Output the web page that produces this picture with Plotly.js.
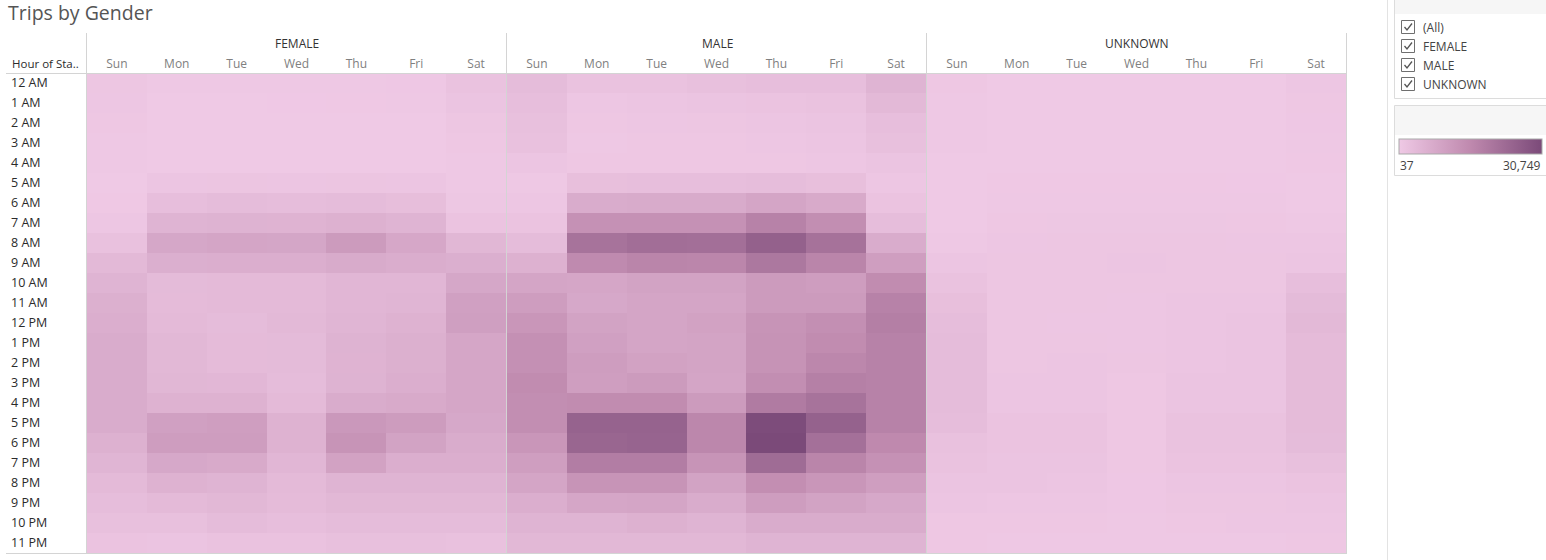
<!DOCTYPE html>
<html><head><meta charset="utf-8">
<script src="https://cdn.plot.ly/plotly-3.0.1.min.js"></script>
<style>html,body{margin:0;padding:0;background:#fff;overflow:hidden}#chart{width:1546px;height:560px}</style>
</head><body><div id="chart"></div><script>
// ---------- data ----------
const days = ['Sun','Mon','Tue','Wed','Thu','Fri','Sat'];
const hours = ['12 AM','1 AM','2 AM','3 AM','4 AM','5 AM','6 AM','7 AM','8 AM','9 AM','10 AM','11 AM',
               '12 PM','1 PM','2 PM','3 PM','4 PM','5 PM','6 PM','7 PM','8 PM','9 PM','10 PM','11 PM'];
const genders = ['FEMALE','MALE','UNKNOWN'];
// rows = hours, columns = Sun..Sat
const female = [
  [738,251,263,289,312,455,1702],
  [702,143,151,170,182,231,1185],
  [498,88,97,103,112,139,781],
  [306,56,61,67,70,84,492],
  [212,98,104,101,110,117,288],
  [137,981,1043,1012,1027,918,241],
  [184,2677,3104,2952,3168,2703,520],
  [712,5087,5369,5311,5842,5024,1462],
  [1934,8251,8702,8519,11143,8187,4376],
  [3880,6302,6544,6551,7289,6813,6287],
  [5094,3402,3621,3655,4577,4614,8243],
  [6052,3385,3607,3640,4596,4851,9930],
  [6538,3628,3160,3893,4843,5571,10178],
  [7034,4128,3395,3402,5317,6066,8474],
  [7019,4113,3380,3425,5304,6043,8461],
  [7047,4378,4352,3144,5331,6527,8488],
  [7028,5563,5590,3632,7012,7496,8470],
  [7003,9912,10398,5575,11870,10890,7989],
  [5810,10646,10655,5581,12815,9199,7025],
  [4843,7988,7507,4603,9440,6527,6541],
  [3627,5571,5086,3635,5095,5068,5077],
  [2896,3628,4115,3386,4118,4107,4121],
  [2174,2186,3147,2652,3154,3139,3160],
  [1448,1207,1698,1690,2177,2184,1941]
];
const male = [
  [3152,1697,1712,2184,2661,2648,5089],
  [2663,731,968,1213,1452,1689,3874],
  [2182,482,724,738,973,1207,2655],
  [1937,247,476,489,735,968,2176],
  [972,481,488,492,497,734,1214],
  [243,2421,2667,2659,2904,2418,733],
  [728,7027,7261,7254,8712,7498,1451],
  [1447,13552,13561,13548,17186,14284,2903],
  [3149,20813,22019,21786,25174,21048,7023],
  [5808,15247,16463,16209,19603,16455,10412],
  [8709,8468,9197,9203,11132,10654,14762],
  [10651,7993,8714,8706,11128,11140,17183],
  [12343,9201,8716,9438,12829,14037,17912],
  [13794,9922,8706,8951,13069,14761,17178],
  [13786,10647,9443,8962,13074,15972,17190],
  [14758,10408,11131,8719,14281,17667,17181],
  [14279,14763,14755,11139,18879,20811,17176],
  [14283,24682,24679,15968,30252,24931,17188],
  [12338,23961,24443,15976,30749,21543,15489],
  [10406,18392,18387,12827,22508,16461,13549],
  [8712,12831,12819,9201,14273,12342,10406],
  [6542,8473,8706,7019,10648,9204,7994],
  [5094,5087,5805,5101,7031,7018,7044],
  [4118,4121,4108,4127,5091,5079,5083]
];
const unknown = [
  [482,118,104,99,107,126,731],
  [356,71,62,65,72,81,487],
  [283,49,45,44,47,55,402],
  [212,39,37,41,43,46,286],
  [141,58,61,60,63,66,187],
  [94,180,195,188,186,172,121],
  [72,301,336,322,331,294,142],
  [141,512,548,541,566,497,263],
  [266,734,771,758,802,722,689],
  [964,748,761,982,776,752,958],
  [1688,761,752,744,781,797,2643],
  [2418,746,738,731,969,988,3398],
  [2905,742,728,735,978,1212,3874],
  [3143,757,743,719,981,1219,3388],
  [3151,766,962,748,989,1224,3391],
  [3138,974,961,482,1208,1216,3382],
  [3129,985,967,487,1215,1231,3376],
  [2894,1448,1457,479,1695,1687,3369],
  [1939,1442,1451,471,1702,1694,3147],
  [1688,1213,1205,466,1452,1459,2182],
  [1209,1201,968,452,973,981,1448],
  [968,728,734,443,741,736,962],
  [482,476,489,238,492,718,724],
  [463,246,252,231,255,263,478]
];
const filterItems = ['(All)','FEMALE','MALE','UNKNOWN'];
const chartTitle = 'Trips by Gender';
const rowHeader = 'Hour of Sta..';

// ---------- layout helpers ----------
const W = 1546, H = 560;
const px = v => v / W;
const py = v => 1 - v / H;
const series = [female, male, unknown];
const all = series.flat(2);
const zmin = Math.min(...all), zmax = Math.max(...all);
const fmt = n => n.toLocaleString('en-US');

const colorscale = [
  [0, 'rgb(239,201,229)'],
  [0.5, 'rgb(191,137,174)'],
  [1, 'rgb(123,74,121)']
];
const FONT = 'Open Sans, Noto Sans, sans-serif';

const panelLeft = [87, 507, 927];
const panelW = 420;
const gridTop = 73, gridBottom = 553;

const traces = series.map((z, i) => ({
  type: 'heatmap',
  x: days, y: hours, z: z,
  xaxis: i === 0 ? 'x' : 'x' + (i + 1), yaxis: 'y',
  zmin: zmin, zmax: zmax,
  colorscale: colorscale,
  xgap: 0, ygap: 0,
  hoverinfo: 'skip',
  showscale: i === 0,
  colorbar: {
    orientation: 'h', x: px(1399), xanchor: 'left', y: py(139), yanchor: 'top',
    len: 143, lenmode: 'pixels', thickness: 15, thicknessmode: 'pixels',
    outlinewidth: 1, outlinecolor: '#a9a9a9', showticklabels: false, ticks: '',
    xpad: 0, ypad: 0, borderwidth: 0
  }
}));

const layout = {
  width: W, height: H,
  margin: {l: 0, r: 0, t: 0, b: 0, pad: 0},
  paper_bgcolor: '#fff', plot_bgcolor: '#fff',
  showlegend: false,
  font: {family: FONT, size: 12, color: '#333'},
  yaxis: {
    domain: [py(gridBottom), py(gridTop)], type: 'category', autorange: 'reversed',
    anchor: 'free', position: px(10), side: 'right',
    showgrid: false, zeroline: false, showline: false, ticks: '',
    tickfont: {family: FONT, size: 12.5, color: '#2b2b2b'}, fixedrange: true
  },
  shapes: [],
  annotations: []
};
panelLeft.forEach((l, i) => {
  const key = i === 0 ? 'xaxis' : 'xaxis' + (i + 1);
  layout[key] = {
    domain: [px(l), px(l + panelW - 1)], anchor: 'y', side: 'top', type: 'category',
    showgrid: false, zeroline: false, showline: false, ticks: '', ticklabelstandoff: 2,
    tickfont: {family: FONT, size: 12, color: '#808080'}, fixedrange: true
  };
  layout.annotations.push({
    xref: 'paper', yref: 'paper', x: px(l + panelW / 2), y: py(44), xanchor: 'center', yanchor: 'middle',
    text: genders[i], showarrow: false, font: {family: FONT, size: 12, color: '#333'}
  });
});

const line = (x0, y0, x1, y1, c, w) => ({type: 'line', xref: 'paper', yref: 'paper',
  x0: px(x0), y0: py(y0), x1: px(x1), y1: py(y1), line: {color: c || '#d4d4d4', width: w || 1}});
const rect = (x0, y0, x1, y1, fill, lc) => ({type: 'rect', xref: 'paper', yref: 'paper',
  x0: px(x0), y0: py(y0), x1: px(x1), y1: py(y1), fillcolor: fill || 'rgba(0,0,0,0)',
  line: {color: lc || 'rgba(0,0,0,0)', width: lc ? 1 : 0}, layer: 'below'});

// grid frame
layout.shapes.push(line(6, 73.5, 1347, 73.5));
layout.shapes.push(line(6, 553.5, 1347, 553.5));
[86.5, 506.5, 926.5, 1346.5].forEach(x => layout.shapes.push(line(x, 33, x, 553.5)));

// side panel
layout.shapes.push(line(1387.5, 0, 1387.5, 560, '#e3e3e3'));
layout.shapes.push(rect(1395, 0, 1560, 14, '#f6f6f6'));
layout.shapes.push(rect(1394.5, -2, 1560, 98.5, 'rgba(0,0,0,0)', '#dcdcdc'));
layout.shapes.push(rect(1395, 106, 1560, 135, '#f6f6f6'));
layout.shapes.push(rect(1394.5, 105.5, 1560, 175.5, 'rgba(0,0,0,0)', '#dcdcdc'));

filterItems.forEach((t, i) => {
  const cy = 27 + i * 19;
  layout.shapes.push({type: 'rect', xref: 'paper', yref: 'paper',
    x0: px(1401.5), y0: py(cy - 6.5), x1: px(1414.5), y1: py(cy + 6.5),
    fillcolor: '#fff', line: {color: '#6f6f6f', width: 1}});
  layout.shapes.push({type: 'path', xref: 'paper', yref: 'paper',
    path: `M ${px(1404.5)} ${py(cy)} L ${px(1407)} ${py(cy + 3)} L ${px(1412)} ${py(cy - 3.5)}`,
    line: {color: '#555', width: 1.3}});
  layout.annotations.push({xref: 'paper', yref: 'paper', x: px(1421), y: py(cy), xanchor: 'left', yanchor: 'middle',
    text: t, showarrow: false, font: {family: FONT, size: 12, color: '#444'}});
});

layout.annotations.push({xref: 'paper', yref: 'paper', x: px(1398), y: py(165), xanchor: 'left', yanchor: 'middle',
  text: fmt(zmin), showarrow: false, font: {family: FONT, size: 12, color: '#444'}});
layout.annotations.push({xref: 'paper', yref: 'paper', x: px(1543), y: py(165), xanchor: 'right', yanchor: 'middle',
  text: fmt(zmax), showarrow: false, font: {family: FONT, size: 12, color: '#444'}});

layout.annotations.push({xref: 'paper', yref: 'paper', x: px(6), y: py(12), xanchor: 'left', yanchor: 'middle',
  text: chartTitle, showarrow: false, font: {family: FONT, size: 19.5, color: '#555'}});
layout.annotations.push({xref: 'paper', yref: 'paper', x: px(10), y: py(63), xanchor: 'left', yanchor: 'middle',
  text: rowHeader, showarrow: false, font: {family: FONT, size: 11.5, color: '#2b2b2b'}});

Plotly.newPlot('chart', traces, layout, {displayModeBar: false, staticPlot: true});
</script></body></html>
